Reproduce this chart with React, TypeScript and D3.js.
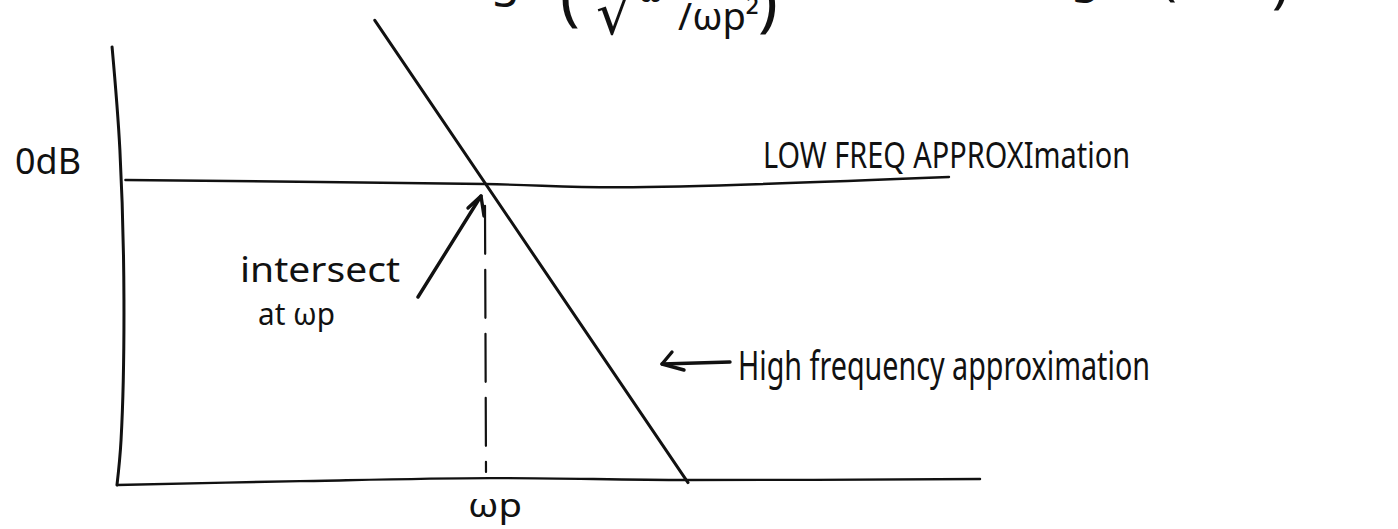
import React from "react";
import * as d3 from "d3";

// Bode magnitude sketch: x in decades relative to ωp (log10(ω/ωp)), y in dB.
const W = 1398;
const H = 529;

// Hand-drawn axes, read as [decade, dB] points
const yAxisPoints: [number, number][] = [
  [-1.286, 6.36],
  [-1.259, 1.54],
  [-1.245, -5.47],
  [-1.255, -12.01],
  [-1.269, -14.11],
];
const xAxisPoints: [number, number][] = [
  [-1.269, -14.11],
  [-0.638, -13.93],
  [0.017, -13.79],
  [0.697, -13.88],
  [1.707, -13.83],
];

// Low frequency asymptote (0 dB)
const lowFreqPoints: [number, number][] = [
  [-1.24, 0.14],
  [0.0, -0.05],
  [0.466, -0.2],
  [1.6, 0.28],
];

// High frequency asymptote (-20 dB/decade)
const highFreqPoints: [number, number][] = [
  [-0.38, 7.6],
  [0.7, -14.0],
];

// Corner frequency marker (ωp)
const cornerDecade = 0;
const cornerDashDb: [number, number] = [-0.6, -13.5];

// Labels
const zeroDbLabel = "0dB";
const cornerLabel = "ωp";
const lowFreqLabel = "LOW FREQ APPROXImation";
const highFreqLabel = "High frequency approximation";
const intersectLabel = ["intersect", "at ωp"];

const x = d3.scaleLinear().domain([0, 1]).range([485, 775]);
const y = d3.scaleLinear().domain([0, -10]).range([183, 397]);

const lineGen = d3
  .line<[number, number]>()
  .x((d) => x(d[0]))
  .y((d) => y(d[1]))
  .curve(d3.curveCatmullRom.alpha(0.5));

const ink = "#111";
const hand = "'Noto Sans', 'DejaVu Sans', sans-serif";

export default function App() {
  const cx = x(cornerDecade);
  return (
    <svg
      width={W}
      height={H}
      viewBox={`0 0 ${W} ${H}`}
      style={{ position: "absolute", left: 0, top: 0, background: "#fff" }}
    >
      <g fill="none" stroke={ink} strokeLinecap="round" strokeLinejoin="round">
        <path d={lineGen(yAxisPoints) ?? ""} strokeWidth={3} />
        <path d={lineGen(xAxisPoints) ?? ""} strokeWidth={2.4} />
        <path d={lineGen(lowFreqPoints) ?? ""} strokeWidth={2.4} />
        <path d={lineGen(highFreqPoints) ?? ""} strokeWidth={3} />
        {/* dashed drop line at ωp */}
        <line
          x1={cx}
          x2={cx + 1}
          y1={y(cornerDashDb[0]) + 10}
          y2={y(cornerDashDb[1])}
          strokeWidth={2.2}
          strokeDasharray="48 16"
        />
        {/* arrow pointing at the intersection */}
        <path d="M418,297 L481,196" strokeWidth={3.4} />
        <path d="M468,208 L481,196 L484,216" strokeWidth={3.4} />
        {/* arrow pointing at the high-frequency line */}
        <path d="M730,362 L662,364" strokeWidth={3.4} />
        <path d="M672,352 L662,364 L684,370" strokeWidth={3.4} />
      </g>

      {/* equation running off the top edge */}
      <g fill={ink} fontFamily={hand}>
        <text x={520} y={-4} fontSize={48} textAnchor="end">20log</text>
        <text x={560} y={18} fontSize={66}>(</text>
        <text x={596} y={34} fontSize={58}>√</text>
        <text x={638} y={2} fontSize={32}>ω²</text>
        <text x={678} y={30} fontSize={38}>/ωp²</text>
        <text x={758} y={24} fontSize={66}>)</text>
        <text x={1100} y={-8} fontSize={48} textAnchor="end">20log</text>
        <text x={1160} y={-6} fontSize={56}>(</text>
        <text x={1188} y={-10} fontSize={28}>ω/ωp</text>
        <text x={1272} y={2} fontSize={56}>)</text>
      </g>

      <g fill={ink} fontFamily={hand}>
        <text x={15} y={174} fontSize={36} textLength={66} lengthAdjust="spacingAndGlyphs">
          {zeroDbLabel}
        </text>
        <text x={763} y={168} fontSize={36} textLength={367} lengthAdjust="spacingAndGlyphs">
          {lowFreqLabel}
        </text>
        <text x={738} y={380} fontSize={40} textLength={412} lengthAdjust="spacingAndGlyphs">
          {highFreqLabel}
        </text>
        <text x={240} y={282} fontSize={34} textLength={160} lengthAdjust="spacingAndGlyphs">
          {intersectLabel[0]}
        </text>
        <text x={258} y={325} fontSize={31} textLength={77} lengthAdjust="spacingAndGlyphs">
          {intersectLabel[1]}
        </text>
        <text x={cx - 17} y={517} fontSize={32} textLength={54} lengthAdjust="spacingAndGlyphs">
          {cornerLabel}
        </text>
      </g>
    </svg>
  );
}
